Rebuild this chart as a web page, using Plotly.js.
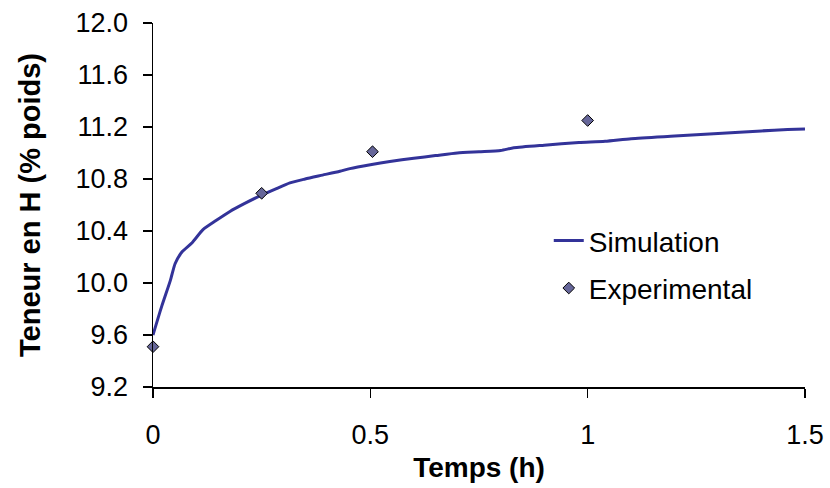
<!DOCTYPE html>
<html>
<head>
<meta charset="utf-8">
<script src="https://cdn.plot.ly/plotly-3.0.1.min.js"></script>
<style>html,body{margin:0;padding:0;background:#fff;}#chart{width:830px;height:488px;}</style>
</head>
<body>
<div id="chart"></div>
<script>
// Simulation curve (time in h, H content in wt%)
const simTime = [0, 0.02, 0.04, 0.051, 0.067, 0.09, 0.115, 0.145, 0.177, 0.21, 0.246, 0.28, 0.315, 0.35, 0.39, 0.43, 0.453, 0.5, 0.545, 0.6, 0.65, 0.70, 0.75, 0.80, 0.83, 0.9, 0.98, 1.04, 1.10, 1.20, 1.30, 1.40, 1.46, 1.5];
const simH    = [9.60, 9.82, 10.02, 10.15, 10.24, 10.31, 10.41, 10.48, 10.55, 10.61, 10.67, 10.72, 10.77, 10.80, 10.83, 10.86, 10.88, 10.91, 10.935, 10.96, 10.98, 11.00, 11.01, 11.02, 11.04, 11.06, 11.08, 11.09, 11.11, 11.13, 11.15, 11.17, 11.18, 11.185];
// Experimental points
const expTime = [0, 0.25, 0.505, 1.0];
const expH    = [9.51, 10.69, 11.01, 11.25];
// Axis ticks
const yTicks = [9.2, 9.6, 10.0, 10.4, 10.8, 11.2, 11.6, 12.0];
const xTicks = [0, 0.5, 1, 1.5];
const xTickText = ['0', '0.5', '1', '1.5'];

const font = 'Arial, "Liberation Sans", sans-serif';

const traces = [
  {
    x: simTime, y: simH, type: 'scatter', mode: 'lines', name: 'Simulation', legendgroup: 'a',
    line: {color: '#333399', width: 3, shape: 'spline', smoothing: 0.6}
  },
  {
    x: expTime, y: expH, type: 'scatter', mode: 'markers', name: 'Experimental', legendgroup: 'b',
    marker: {symbol: 'diamond', size: 9, color: '#666699', line: {color: '#000', width: 1}},
    cliponaxis: false
  }
];

const layout = {
  width: 830, height: 488,
  margin: {l: 153, r: 25, t: 23, b: 101},
  paper_bgcolor: '#fff', plot_bgcolor: '#fff',
  font: {family: font, size: 27, color: '#000'},
  showlegend: true,
  legend: {x: 0.607, y: 0.47, xanchor: 'left', yanchor: 'top', bgcolor: 'rgba(0,0,0,0)',
           font: {family: font, size: 28, color: '#000'}, tracegroupgap: 8, itemwidth: 30},
  xaxis: {
    range: [0, 1.5], tickvals: xTicks, ticktext: xTickText,
    showgrid: false, zeroline: false, showline: true, linecolor: '#000', linewidth: 1.5,
    ticks: 'outside', ticklen: 9, tickwidth: 1.5, tickcolor: '#000', ticklabelstandoff: 14,
    tickfont: {family: font, size: 27, color: '#000'},
    title: {text: '<b>Temps (h)</b>', font: {family: font, size: 28, color: '#000'}, standoff: 8}
  },
  yaxis: {
    range: [9.2, 12.0], tickvals: yTicks, tickformat: '.1f',
    showgrid: false, zeroline: false, showline: true, linecolor: '#000', linewidth: 1.5,
    ticks: 'outside', ticklen: 9, tickwidth: 1.5, tickcolor: '#000', ticklabelstandoff: 9,
    tickfont: {family: font, size: 27, color: '#000'},
    title: {text: '<b>Teneur en H (% poids)</b>', font: {family: font, size: 29, color: '#000'}, standoff: 26}
  }
};

Plotly.newPlot('chart', traces, layout, {displayModeBar: false, staticPlot: true});
</script>
</body>
</html>
